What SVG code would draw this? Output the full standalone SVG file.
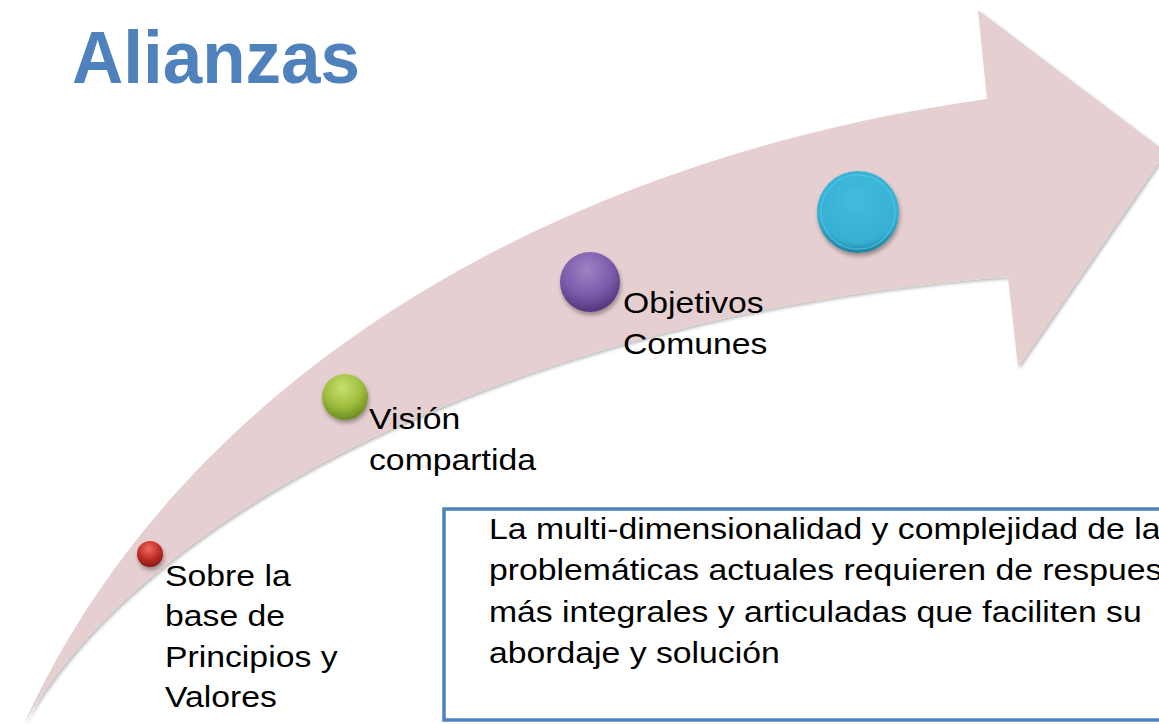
<svg xmlns="http://www.w3.org/2000/svg" width="1159" height="724" viewBox="0 0 1159 724">
<style>
.title{font-family:"Liberation Sans",Arial,sans-serif;font-weight:bold;font-size:74px;fill:#4F81BD}
.lbl{font-family:"Liberation Sans",Arial,sans-serif;font-size:30px;fill:#000}
</style>
<defs>
<filter id="sh" x="-10%" y="-10%" width="120%" height="120%">
<feDropShadow dx="2" dy="2" stdDeviation="1.5" flood-color="#000" flood-opacity="0.25"/>
</filter>
<filter id="bsh" x="-40%" y="-40%" width="180%" height="180%">
<feDropShadow dx="1" dy="3" stdDeviation="2" flood-color="#000" flood-opacity="0.35"/>
</filter>
<radialGradient id="gRed" cx="45%" cy="30%" r="70%">
<stop offset="0" stop-color="#EE6A62"/><stop offset="0.55" stop-color="#C4302B"/><stop offset="1" stop-color="#8A1714"/>
</radialGradient>
<radialGradient id="gGreen" cx="45%" cy="30%" r="70%">
<stop offset="0" stop-color="#C8E070"/><stop offset="0.6" stop-color="#9CBD3C"/><stop offset="1" stop-color="#6E8A22"/>
</radialGradient>
<radialGradient id="gPurple" cx="45%" cy="30%" r="70%">
<stop offset="0" stop-color="#9E82C4"/><stop offset="0.6" stop-color="#7C5BAA"/><stop offset="1" stop-color="#52377C"/>
</radialGradient>
<radialGradient id="gCyan" cx="50%" cy="35%" r="65%">
<stop offset="0" stop-color="#42BCDD"/><stop offset="0.8" stop-color="#36B0D3"/><stop offset="1" stop-color="#1F809D"/>
</radialGradient>
</defs>
<rect width="1159" height="724" fill="#fff"/>
<g id="title"><text class="title" x="72" y="83" textLength="288" lengthAdjust="spacingAndGlyphs">Alianzas</text></g>
<g id="connectors">
<path id="arrow" filter="url(#sh)" fill="#E6CFD0" d="M24,724 C180,380 550,160 987,99 L978,10 L1166,152 L1018,367 L1008,277 C550,310 150,500 24,724 Z"/>
</g>
<g id="node-principios">
<circle cx="150" cy="554" r="13" fill="url(#gRed)" filter="url(#bsh)"/>
<text class="lbl" transform="translate(165,0) scale(1.125,1)"><tspan x="0" y="586">Sobre la</tspan><tspan x="0" y="626.5">base de</tspan><tspan x="0" y="667">Principios y</tspan><tspan x="0" y="707">Valores</tspan></text>
</g>
<g id="node-vision">
<circle cx="345" cy="397" r="23" fill="url(#gGreen)" filter="url(#bsh)"/>
<text class="lbl" transform="translate(369,0) scale(1.125,1)"><tspan x="0" y="429">Visión</tspan><tspan x="0" y="470">compartida</tspan></text>
</g>
<g id="node-objetivos">
<circle cx="590" cy="282" r="30" fill="url(#gPurple)" filter="url(#bsh)"/>
<text class="lbl" transform="translate(623,0) scale(1.125,1)"><tspan x="0" y="313">Objetivos</tspan><tspan x="0" y="354">Comunes</tspan></text>
</g>
<g id="node-cyan">
<circle cx="858" cy="212" r="41" fill="url(#gCyan)" filter="url(#bsh)"/>
<circle cx="858" cy="212" r="37" fill="none" stroke="#5DD0EE" stroke-width="1.5" stroke-opacity="0.5"/>
</g>
<g id="textbox">
<rect x="444" y="509" width="760" height="211" fill="#fff" stroke="#4F81BD" stroke-width="3.5"/>
<text class="lbl" transform="translate(489,0) scale(1.125,1)"><tspan x="0" y="539">La multi-dimensionalidad y complejidad de la</tspan><tspan x="0" y="580">problemáticas actuales requieren de respuestas</tspan><tspan x="0" y="622">más integrales y articuladas que faciliten su</tspan><tspan x="0" y="663">abordaje y solución</tspan></text>
</g>
</svg>
